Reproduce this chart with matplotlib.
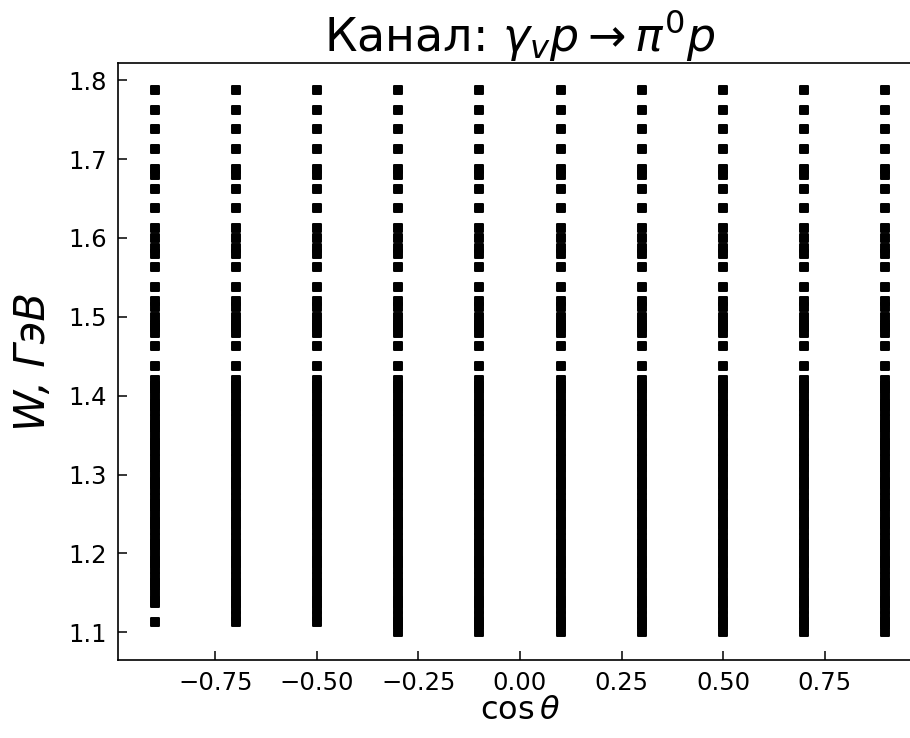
"""
Kinematic coverage of the gamma_v p -> pi0 p channel (W vs cos theta).

Output:
    out.png
"""

from __future__ import annotations

import matplotlib

matplotlib.use("Agg")
import matplotlib.pyplot as plt
from matplotlib.markers import MarkerStyle

# cos(theta) bins of the data set.
cos_theta = [-0.9, -0.7, -0.5, -0.3, -0.1, 0.1, 0.3, 0.5, 0.7, 0.9]

# Lowest W (GeV) of the fine-binned part in each cos(theta) column.
w_fine_min = [1.14, 1.12, 1.12, 1.10, 1.10, 1.10, 1.10, 1.10, 1.10, 1.10]

# Fine W binning (GeV), low-W region.
w_fine = [
    1.10, 1.11, 1.12, 1.13, 1.14, 1.15, 1.16, 1.17, 1.18, 1.19, 1.20,
    1.21, 1.22, 1.23, 1.24, 1.25, 1.26, 1.27, 1.28, 1.29, 1.30, 1.31,
    1.32, 1.33, 1.34, 1.35, 1.36, 1.37, 1.38, 1.39, 1.40, 1.41, 1.42,
]

# Coarse W binning (GeV), full range.
w_coarse = [
    1.1125, 1.1375, 1.1625, 1.1875, 1.2125, 1.2375, 1.2625, 1.2875,
    1.3125, 1.3375, 1.3625, 1.3875, 1.4125, 1.4375, 1.4625, 1.4875,
    1.5125, 1.5375, 1.5625, 1.5875, 1.6125, 1.6375, 1.6625, 1.6875,
    1.7125, 1.7375, 1.7625, 1.7875,
]

# Extra W points (GeV) from another data set.
w_extra = [1.48, 1.49, 1.50, 1.52, 1.58, 1.60, 1.68]


def main() -> None:
    plt.rcParams.update({"font.family": ["DejaVu Sans"], "mathtext.fontset": "dejavusans"})

    fig = plt.figure(figsize=(9.1, 7.38), dpi=100)
    # Right spine falls just outside the canvas, as in the original crop.
    ax = fig.add_axes([118 / 910, 78 / 738, 804 / 910, 597 / 738])

    xs = []
    ys = []
    for c, w_min in zip(cos_theta, w_fine_min):
        for w in w_fine:
            if w >= w_min - 1e-9:
                xs.append(c)
                ys.append(w)
        for w in w_coarse + w_extra:
            xs.append(c)
            ys.append(w)

    square = MarkerStyle("s", joinstyle="round")
    ax.plot(xs, ys, linestyle="none", marker=square, markersize=6.0,
            color="black", markeredgewidth=1.4, zorder=3)

    ax.set_xlim(-0.99, 0.99)
    ax.set_ylim(1.0648, 1.8218)
    ax.set_xticks([-0.75, -0.50, -0.25, 0.00, 0.25, 0.50, 0.75])
    ax.set_yticks([1.1, 1.2, 1.3, 1.4, 1.5, 1.6, 1.7, 1.8])

    ax.tick_params(direction="in", length=6.5, width=1.1, labelsize=17.5, pad=8)
    for spine in ax.spines.values():
        spine.set_linewidth(1.2)

    ax.set_xlabel(r"$\cos\theta$", fontsize=23, labelpad=0)
    ax.set_ylabel("W, ГэВ", fontsize=30, fontstyle="italic", labelpad=10)
    ax.set_title(r"Канал: $\gamma_v p \rightarrow \pi^0 p$", fontsize=33, pad=8)

    fig.savefig("out.png", dpi=100)


if __name__ == "__main__":
    main()
